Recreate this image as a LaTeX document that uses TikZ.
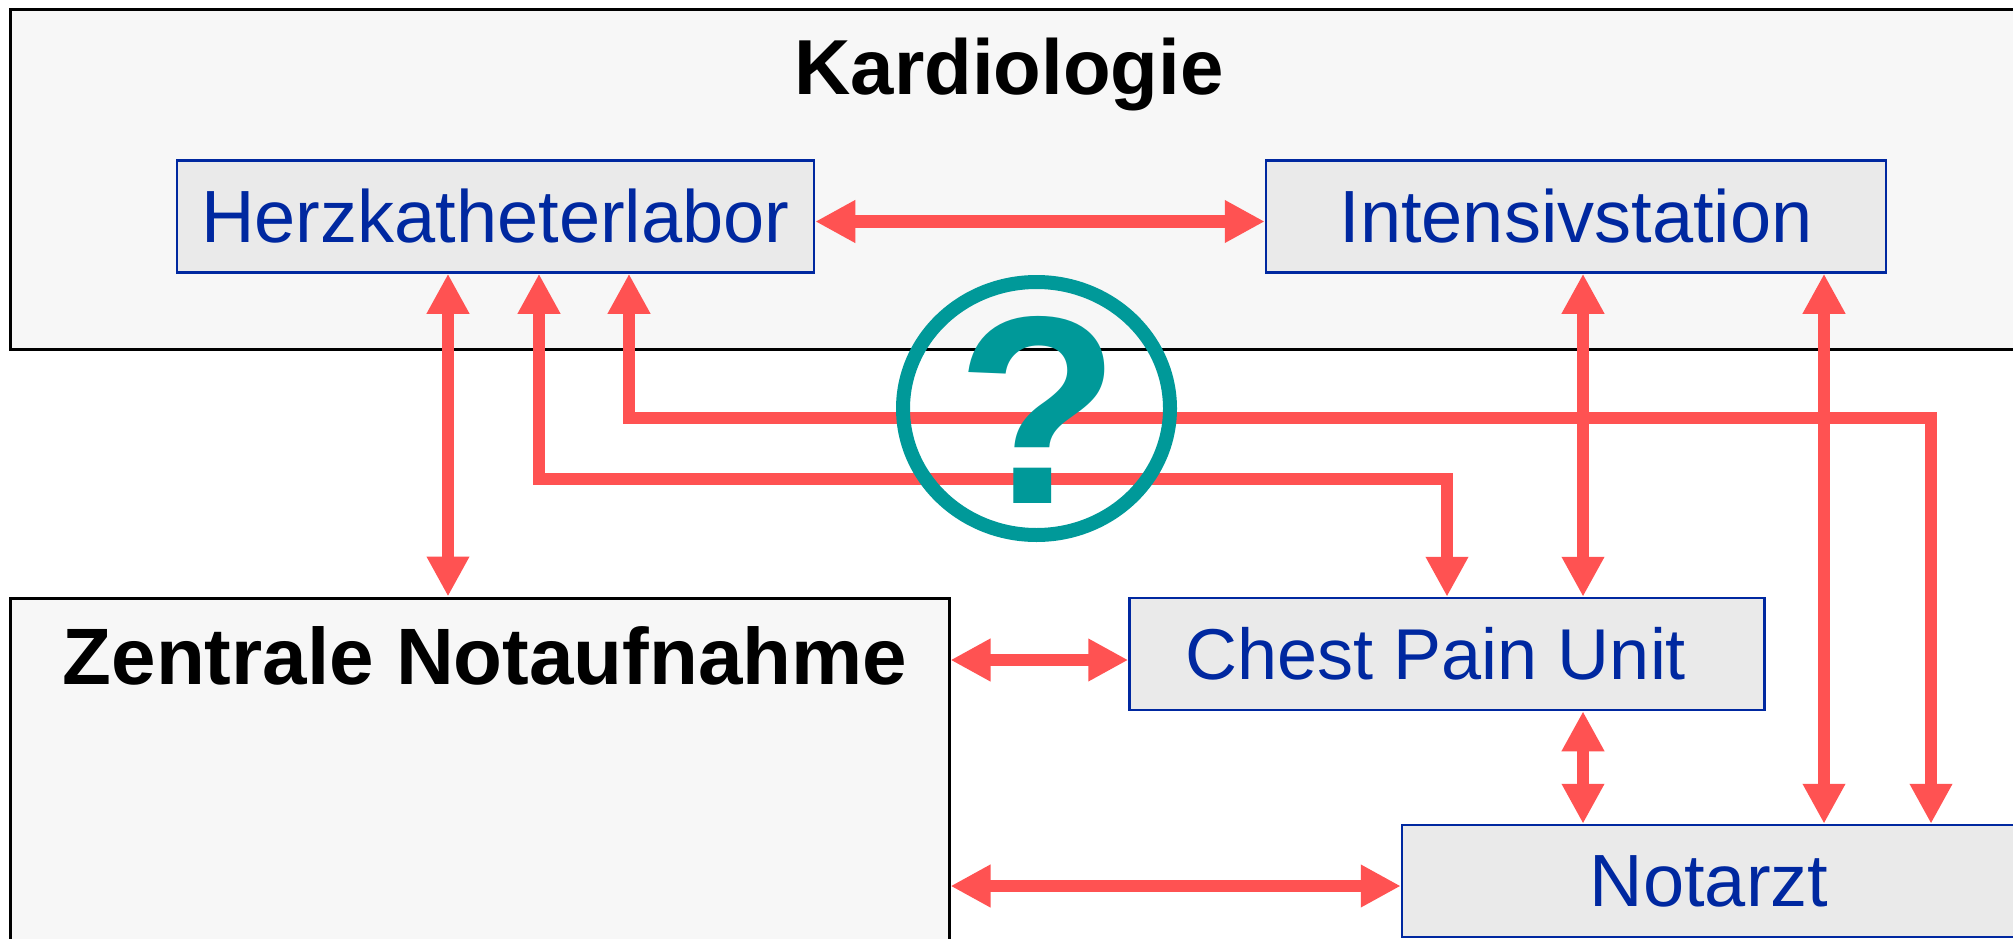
\documentclass[tikz,border=0pt]{standalone}
\usepackage{fontspec}
\setmainfont{Liberation Sans}
\usetikzlibrary{arrows.meta,shapes.geometric}
\definecolor{linkred}{RGB}{255,82,82}
\definecolor{qteal}{RGB}{0,153,153}
\definecolor{unitblue}{RGB}{0,40,160}
\definecolor{unitfill}{RGB}{234,234,234}
\definecolor{outerfill}{RGB}{247,247,247}
\begin{document}
\begin{tikzpicture}[x=1pt,y=-1pt,
  outerbox/.style={rectangle, draw=black, line width=3pt, fill=outerfill, inner sep=0pt},
  unitbox/.style={rectangle, draw=unitblue, line width=2.5pt, fill=unitfill, inner sep=0pt,
     minimum height=112pt, text=unitblue, font=\fontsize{74}{80}\selectfont},
  titletext/.style={font=\bfseries\fontsize{78}{84}\selectfont, anchor=base, inner sep=0pt},
  link/.style={draw=linkred, line width=12.5pt,
     arrows={Triangle[length=40pt,width=40pt]-Triangle[length=40pt,width=40pt]}},
  ring/.style={ellipse, draw=qteal, line width=14pt, inner sep=0pt}]
\useasboundingbox (0,0) rectangle (2013,939);
\clip (0,0) rectangle (2013,939);
\fill[white] (0,0) rectangle (2013,939);
% outer departments
\node[outerbox, minimum width=2030pt, minimum height=339pt] (kard) at (1025,179.5) {};
\node[titletext] (kardtitle) at (1009,95) {Kardiologie};
\node[outerbox, minimum width=939pt, minimum height=360pt] (zn) at (479.5,778) {};
\node[titletext, font=\bfseries\fontsize{80}{86}\selectfont] (zntitle) at (485,684) {Zentrale Notaufnahme};
% units
\node[unitbox, minimum width=637pt] (herz) at (495.5,216.5) {Herzkatheterlabor};
\node[unitbox, minimum width=620pt] (intens) at (1576,216.5) {Intensivstation};
\node[unitbox, minimum width=635pt, font=\fontsize{72}{78}\selectfont] (cpu) at (1447,654) {Chest Pain Unit\kern22pt};
\node[unitbox, minimum width=614pt] (notarzt) at (1709,881) {Notarzt};
% rails
\coordinate (lowrail) at (0,479);
\coordinate (highrail) at (0,418);
\coordinate (c8) at ([yshift=-6pt]cpu.west);
\coordinate (c9) at ([yshift=-5pt]notarzt.west);
% connectors
\draw[link] ([yshift=-5pt]herz.east) -- ([yshift=-5pt]intens.west);
\draw[link] ([xshift=-47.5pt]herz.south) -- ([xshift=-47.5pt]herz.south |- zn.north);
\draw[link] ([xshift=43.5pt]herz.south) -- ([xshift=43.5pt]herz.south |- lowrail)
   -- (cpu.north |- lowrail) -- (cpu.north);
\draw[link] ([xshift=133.5pt]herz.south) -- ([xshift=133.5pt]herz.south |- highrail)
   -- ([xshift=222pt]notarzt.north |- highrail) -- ([xshift=222pt]notarzt.north);
\draw[link] ([xshift=7pt]intens.south) -- ([xshift=7pt]intens.south |- cpu.north);
\draw[link] ([xshift=248pt]intens.south) -- ([xshift=248pt]intens.south |- notarzt.north);
\draw[link] ([xshift=136pt]cpu.south) -- ([xshift=136pt]cpu.south |- notarzt.north);
\draw[link] (zn.east |- c8) -- (c8);
\draw[link] (zn.east |- c9) -- (c9);
% question mark
\node[ring, minimum width=267pt, minimum height=253pt] (qring) at (1036.5,408.5) {};
\node[text=qteal, font=\bfseries\fontsize{268}{272}\selectfont, inner sep=0pt] (qmark) at (1038,410) {?};
\end{tikzpicture}
\end{document}
